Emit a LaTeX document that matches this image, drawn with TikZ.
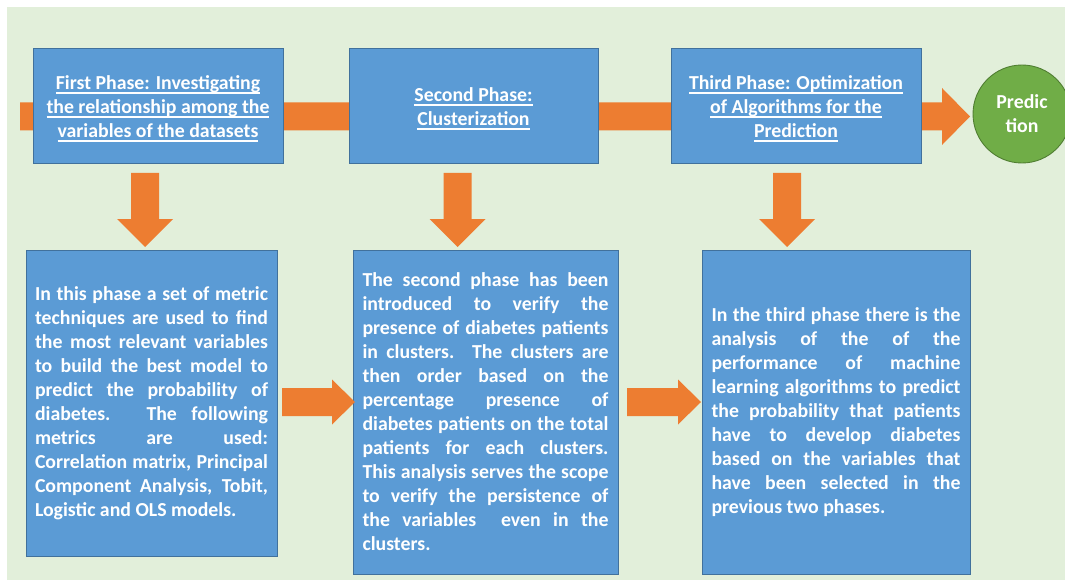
\documentclass[tikz,border=0pt]{standalone}
\usepackage{fontspec}
\setmainfont{Carlito}[BoldFont={Carlito Bold}]
\usetikzlibrary{calc}

\definecolor{bgcol}{HTML}{E2EFDA}
\definecolor{boxfill}{HTML}{5B9BD5}
\definecolor{boxline}{HTML}{41719C}
\definecolor{arrcol}{HTML}{ED7D31}
\definecolor{goalfill}{HTML}{70AD47}
\definecolor{goalline}{HTML}{507E32}

\newcommand\txtfont{\fontsize{19.8pt}{24pt}\selectfont\bfseries}
% underlined title line
\newsavebox\ulinebox
\newcommand\ulline[1]{\sbox\ulinebox{#1}\rlap{\color{white}\rule[-4.2pt]{\wd\ulinebox}{1.2pt}}\usebox\ulinebox}
% justified line of fixed width \jwidth
\newlength\jwidth
\newcommand\jline[1]{\hbox to \jwidth{#1}}

% block arrows: right-pointing (x0, xtip, ycenter, shaft half, head half, head length)
\newcommand\rightblock[6]{\fill[arrcol] (#1,#3-#4) -- (#2-#6,#3-#4) -- (#2-#6,#3-#5) -- (#2,#3)
  -- (#2-#6,#3+#5) -- (#2-#6,#3+#4) -- (#1,#3+#4) -- cycle;}
% down-pointing (xcenter, y0, ytip, shaft half, head half, head length)
\newcommand\downblock[6]{\fill[arrcol] (#1-#4,#2) -- (#1+#4,#2) -- (#1+#4,#3-#6) -- (#1+#5,#3-#6)
  -- (#1,#3) -- (#1-#5,#3-#6) -- (#1-#4,#3-#6) -- cycle;}

\begin{document}
\begin{tikzpicture}[x=1pt,y=-1pt,
  phase/.style={draw=boxline, line width=0.9pt, fill=boxfill, inner sep=0pt},
  phasetitle/.style={text=white, font=\txtfont, align=center, inner sep=0pt},
  detail/.style={draw=boxline, line width=0.9pt, fill=boxfill, inner sep=0pt},
  bodytext/.style={text=white, font=\txtfont, inner sep=0pt},
  goal/.style={circle, draw=goalline, line width=0.9pt, fill=goalfill, text=white,
    font=\txtfont, align=center, minimum size=98pt, inner sep=0pt}]
\useasboundingbox (0,0) rectangle (1065,580);
\fill[bgcol] (7,7) rectangle (1065,580);

% main flow band behind the phase boxes
\rightblock{20}{970}{116.5}{14}{28.5}{28}

% phase boxes
\node[phase, minimum width=250pt, minimum height=115pt] (p1) at (158,105.5) {};
\node[phase, minimum width=249pt, minimum height=115pt] (p2) at (473.5,105.5) {};
\node[phase, minimum width=250pt, minimum height=115pt] (p3) at (796,105.5) {};
\node[phasetitle] (h1) at ($(p1.center)+(0,3)$)
  {\ulline{First Phase: Investigating}\\\ulline{the relationship among the}\\\ulline{variables of the datasets}};
\node[phasetitle] (h2) at ($(p2.center)+(0,3)$)
  {\ulline{Second Phase:}\\\ulline{Clusterization}};
\node[phasetitle] (h3) at ($(p3.center)+(0,3)$)
  {\ulline{Third Phase: Optimization}\\\ulline{of Algorithms for the}\\\ulline{Prediction}};
\node[goal] (pred) at (1022,114) {Predic\\tion};

% descriptions
\node[detail, minimum width=251pt, minimum height=306pt] (d1) at (151.5,403) {};
\node[detail, minimum width=265pt, minimum height=324pt] (d2) at (485.5,412) {};
\node[detail, minimum width=268pt, minimum height=324pt] (d3) at (836,412) {};

\node[bodytext] (t1) at (d1.center) {\setlength\jwidth{233pt}\vbox{%
\jline{In this phase a set of metric}
\jline{techniques are used to find}
\jline{the most relevant variables}
\jline{to build the best model to}
\jline{predict the probability of}
\jline{diabetes. The following}
\jline{metrics are used:}
\jline{Correlation matrix, Principal}
\jline{Component Analysis, Tobit,}
\hbox{Logistic and OLS models.}}};

\node[bodytext] (t2) at (d2.center) {\setlength\jwidth{246pt}\vbox{%
\jline{The second phase has been}
\jline{introduced to verify the}
\jline{presence of diabetes patients}
\jline{in clusters. The clusters are}
\jline{then order based on the}
\jline{percentage presence of}
\jline{diabetes patients on the total}
\jline{patients for each clusters.}
\jline{This analysis serves the scope}
\jline{to verify the persistence of}
\jline{the variables \ even in the}
\hbox{clusters.}}};

\node[bodytext] (t3) at (d3.center) {\setlength\jwidth{249pt}\vbox{%
\jline{In the third phase there is the}
\jline{analysis of the of the}
\jline{performance of machine}
\jline{learning algorithms to predict}
\jline{the probability that patients}
\jline{have to develop diabetes}
\jline{based on the variables that}
\jline{have been selected in the}
\hbox{previous two phases.}}};

% arrows from phases down to descriptions
\downblock{145}{173}{247}{14}{28}{28}
\downblock{457.5}{173}{247}{14}{28}{28}
\downblock{787}{173}{247}{14}{28}{28}

% arrows between descriptions
\rightblock{282}{355}{402}{14}{22.5}{23}
\rightblock{627}{701}{402}{14}{22.5}{23}
\end{tikzpicture}
\end{document}
